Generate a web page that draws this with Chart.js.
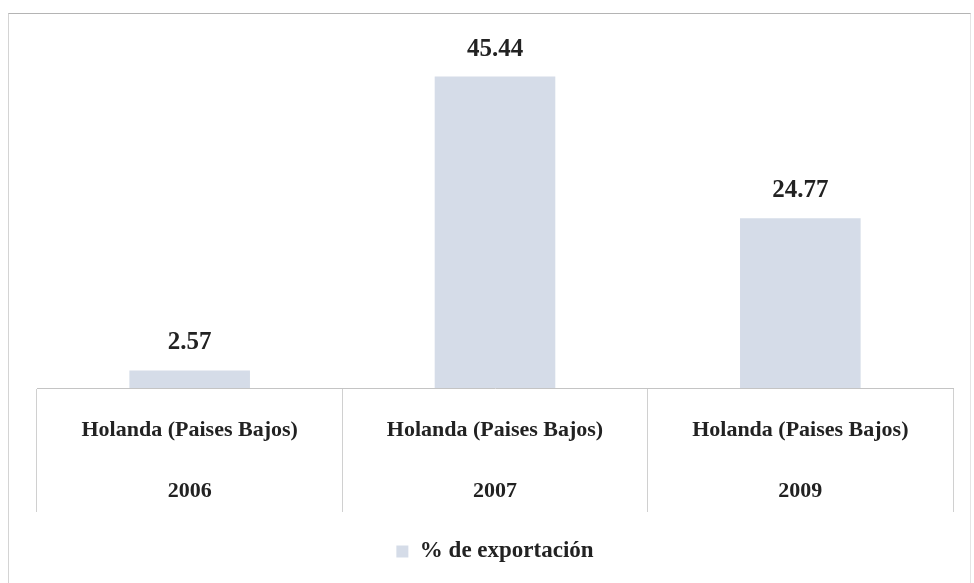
<!DOCTYPE html>
<html lang="es">
<head>
    <meta charset="UTF-8">
    <title>% de exportación</title>
    <script src="https://cdn.jsdelivr.net/npm/chart.js"></script>
    <style>
        body { margin: 0; background: #fff; }
        .marco {
            position: absolute; left: 8px; top: 13px; width: 961px; height: 575px;
            border-top: 1px solid #b4b4b4; border-left: 1px solid #d4d4d4; border-right: 1px solid #e4e4e4;
        }
        #grafico { position: absolute; left: 0; top: 0; }
    </style>
</head>
<body>
    <div class="marco"></div>
    <canvas id="grafico" width="974" height="583"></canvas>

<script>
    // categorías (país + año) y porcentaje de exportación
    const paises = ['Holanda (Paises Bajos)', 'Holanda (Paises Bajos)', 'Holanda (Paises Bajos)'];
    const anios = ['2006', '2007', '2009'];
    const exportacion = [2.57, 45.44, 24.77];

    const fuente = "'Liberation Serif', 'Times New Roman', serif";
    const colorBarra = '#d5dce8';

    // escribe el valor encima de cada barra
    const etiquetasValor = {
        id: 'etiquetasValor',
        afterDatasetsDraw(chart) {
            const ctx = chart.ctx;
            const meta = chart.getDatasetMeta(0);
            ctx.save();
            ctx.font = 'bold 25px ' + fuente;
            ctx.fillStyle = '#222';
            ctx.textAlign = 'center';
            ctx.textBaseline = 'bottom';
            meta.data.forEach((barra, i) => {
                ctx.fillText(exportacion[i].toFixed(2), barra.x, barra.y - 15);
            });
            ctx.restore();
        }
    };

    const config = {
        type: 'bar',
        data: {
            labels: paises.map((p, i) => [p, anios[i]]),
            datasets: [{
                label: '% de exportación',
                data: exportacion,
                backgroundColor: colorBarra,
                borderWidth: 0,
                categoryPercentage: 1,
                barPercentage: 0.395
            }]
        },
        options: {
            responsive: false,
            animation: false,
            layout: { padding: { left: 37, right: 21, top: 20, bottom: 10 } },
            plugins: {
                legend: {
                    position: 'bottom',
                    labels: {
                        boxWidth: 12,
                        boxHeight: 12,
                        color: '#222',
                        padding: 10,
                        font: { family: fuente, size: 23, weight: 'bold' }
                    }
                },
                tooltip: { enabled: false }
            },
            scales: {
                x: {
                    grid: {
                        offset: true,
                        drawOnChartArea: false,
                        drawTicks: true,
                        tickLength: 124,
                        color: '#d0d0d0'
                    },
                    border: { display: true, color: '#c4c4c4' },
                    ticks: {
                        color: '#222',
                        padding: -112,
                        maxRotation: 0,
                        font: { family: fuente, size: 22, weight: 'bold', lineHeight: 2.77 }
                    },
                    afterFit(scale) { scale.height = 142; }
                },
                y: {
                    display: false,
                    min: 0,
                    max: 53.7
                }
            }
        },
        plugins: [etiquetasValor]
    };

    const grafico = new Chart(document.getElementById('grafico'), config);
</script>
</body>
</html>
